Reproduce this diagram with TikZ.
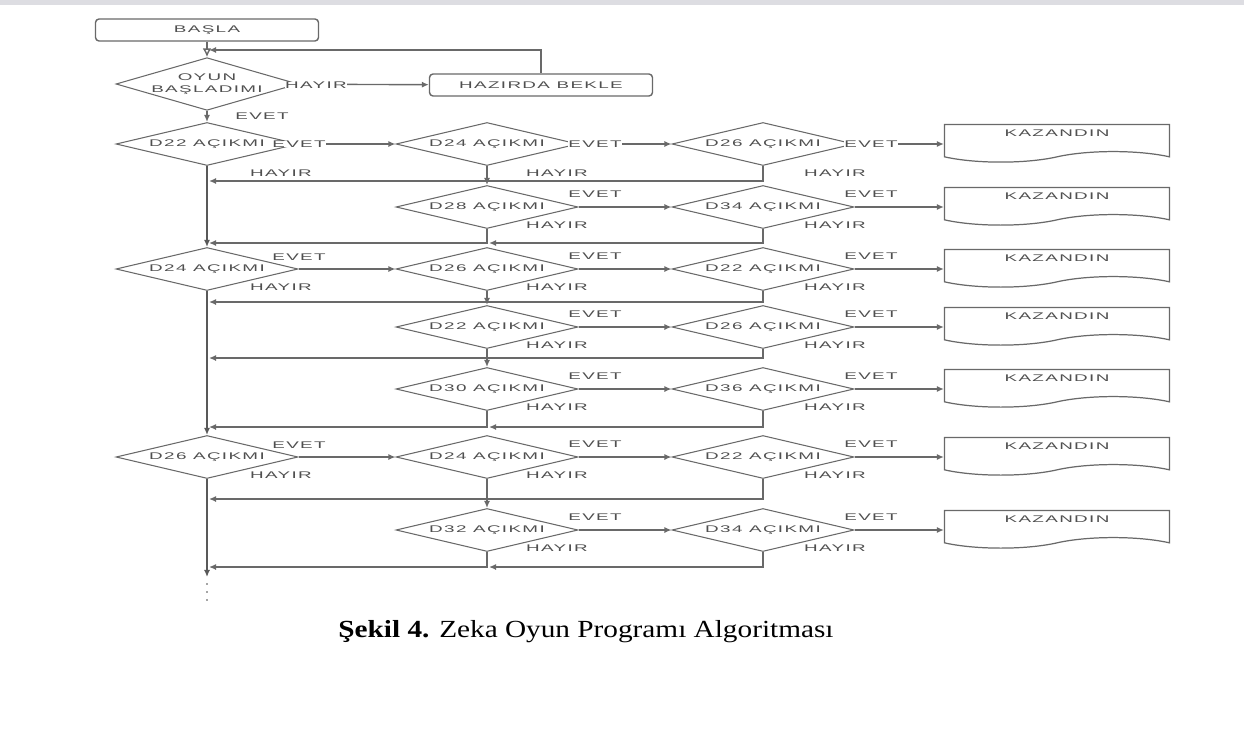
\documentclass[tikz,border=0pt]{standalone}
\usepackage{fontspec}
\setmainfont{Liberation Serif}
\newfontfamily\akisfont[FakeStretch=1.95,LetterSpace=14]{Liberation Sans}
\newfontfamily\yazifont[FakeStretch=1.19]{Liberation Serif}
\definecolor{LineGray}{RGB}{105,105,105}
\definecolor{TextGray}{RGB}{80,80,80}
\definecolor{BandGray}{RGB}{221,221,226}
\usepackage{tikz}
\usetikzlibrary{arrows.meta, shapes.geometric, shapes.symbols, calc}

\begin{document}
\begin{tikzpicture}[x=0.02cm, y=-0.02cm,
    every node/.style={font=\akisfont\fontsize{5.5}{6.5}\selectfont, text=TextGray},
    karar/.style={diamond, draw=LineGray, line width=0.6pt, aspect=4, inner sep=0pt,
                  minimum width=3.64cm, minimum height=0.86cm, align=center},
    kutu/.style={rectangle, rounded corners=2pt, draw=LineGray, line width=0.8pt,
                 minimum width=4.46cm, minimum height=0.44cm},
    kazan/.style={tape, tape bend top=none, tape bend bottom=in and out, tape bend height=6pt,
                  draw=LineGray, line width=0.7pt, minimum width=4.5cm, minimum height=0.75cm,
                  text depth=5pt},
    akis/.style={-{Latex[length=4pt,width=3.5pt]}, draw=LineGray, line width=0.8pt},
    govde/.style={akis, draw=black!65, line width=1.3pt},
    etiket/.style={inner sep=0pt, fill=white}]
  \useasboundingbox (0,0) rectangle (1244,747);
  \fill[BandGray] (0,0) rectangle (1244,5);

  % start and waiting loop
  \node[kutu] (basla) at (207,30) {BAŞLA};
  \node[karar, aspect=3, inner sep=-1pt] (oyun) at (207,84) {OYUN\\BAŞLADIMI};
  \node[kutu] (bekle) at (541,85) {HAZIRDA BEKLE};
  \coordinate (geri) at (209,50);
  \draw[-{Latex[open,length=5pt,width=5pt]}, LineGray, line width=0.8pt] (basla) -- (oyun);
  \draw[akis] (oyun) -- (bekle);
  \draw[akis] (bekle.north) |- (geri);
  \node[etiket] (hoyun) at (316,85) {HAYIR};

  % first column
  \node[karar] (a1) at (207,144) {D22 AÇIKMI};
  \node[karar] (c1) at (207,269) {D24 AÇIKMI};
  \node[karar] (f1) at (207,457) {D26 AÇIKMI};
  \coordinate (son) at (207,577);
  \coordinate (nokta) at (207,602);
  \draw[akis] (oyun) -- (a1);
  \node[etiket] (eoyun) at (262,116) {EVET};
  \draw[govde] (a1) -- (c1);
  \draw[govde] (c1) -- (f1);
  \draw[govde] (f1) -- (son);
  \draw[LineGray!60, line width=1.2pt, dash pattern=on 1.2pt off 3.3pt] (son) ++(0,6) -- (nokta);

  \foreach \r/\y/\p/\q/\e/\h in {a/144/24/26/0/29, b/207/28/34/-13/18, c/269/26/22/-13/18,
      d/327/22/26/-13/18, e/389/30/36/-13/18, f/457/24/22/-13/18, g/530/32/34/-13/18}{
    \node[karar] (\r2) at (487,\y) {D\p\ AÇIKMI};
    \node[karar] (\r3) at (763,\y) {D\q\ AÇIKMI};
    \node[kazan] (\r4) at (1057,\y-6) {KAZANDIN};
    \draw[akis] (\r2) -- (\r3);
    \draw[akis] (\r3.east) -- (\r3.east -| \r4.west);
    \node[etiket] (e\r2) at (595,\y+\e) {EVET};
    \node[etiket] (e\r3) at (871,\y+\e) {EVET};
    \node[etiket] (h\r2) at (557,\y+\h) {HAYIR};
    \node[etiket] (h\r3) at (835,\y+\h) {HAYIR};
  }

  % first column into second column
  \foreach \r/\y/\e/\h in {a/144/0/29, c/269/-12/18, f/457/-12/18}{
    \draw[akis] (\r1) -- (\r2);
    \node[etiket] (e\r1) at (299,\y+\e) {EVET};
    \node[etiket] (h\r1) at (281,\y+\h) {HAYIR};
  }

  % HAYIR returns
  \coordinate (ta) at (209,181);
  \coordinate (tb) at (209,243);
  \coordinate (bj) at (489,243);
  \coordinate (tc) at (209,302);
  \coordinate (td) at (209,358);
  \coordinate (te) at (209,427);
  \coordinate (ej) at (489,427);
  \coordinate (tf) at (209,499);
  \coordinate (tg) at (209,567);
  \coordinate (gj) at (489,567);
  \draw[akis] (a2) -- (b2);
  \draw[akis] (c2) -- (d2);
  \draw[akis] (d2) -- (e2);
  \draw[akis] (f2) -- (g2);
  \draw[akis] (a3.south) |- (ta);
  \draw[akis] (b3.south) |- (bj);
  \draw[akis] (b2.south) |- (tb);
  \draw[akis] (c3.south) |- (tc);
  \draw[akis] (d3.south) |- (td);
  \draw[akis] (e3.south) |- (ej);
  \draw[akis] (e2.south) |- (te);
  \draw[akis] (f3.south) |- (tf);
  \draw[akis] (g3.south) |- (gj);
  \draw[akis] (g2.south) |- (tg);

  \node[font=\yazifont\fontsize{14}{16}\selectfont, text=black] (baslik) at (586,632)
    {\textbf{Şekil 4.} Zeka Oyun Programı Algoritması};
\end{tikzpicture}
\end{document}
